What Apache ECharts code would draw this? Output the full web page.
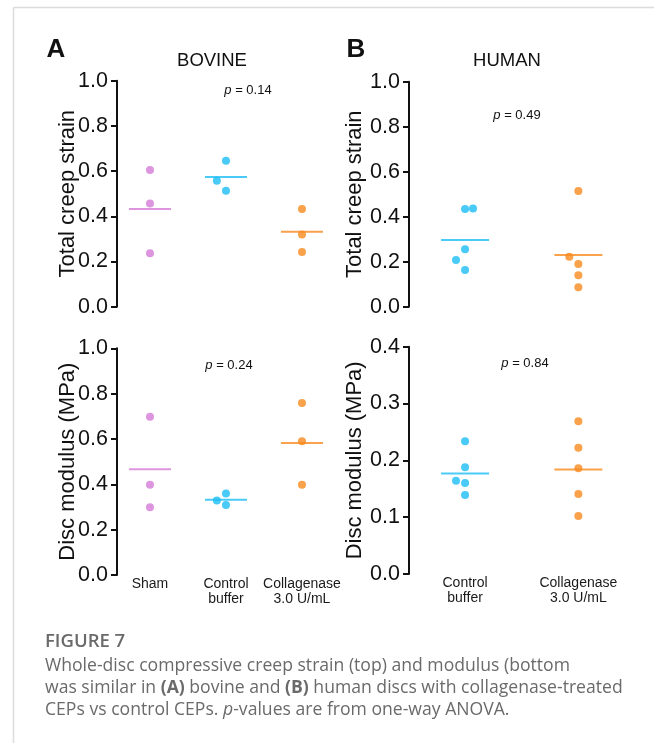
<!DOCTYPE html>
<html>
<head>
<meta charset="utf-8">
<script src="https://cdn.jsdelivr.net/npm/echarts@6/dist/echarts.min.js"></script>
<style>
html,body{margin:0;padding:0;background:#fff;}
#chart{width:654px;height:743px;}
</style>
</head>
<body>
<div id="chart"></div>
<script>
// ---- categories ----
const bovineGroups = ['Sham', 'Control\nbuffer', 'Collagenase\n3.0 U/mL'];
const humanGroups = ['Control\nbuffer', 'Collagenase\n3.0 U/mL'];

// ---- BOVINE total creep strain ----
const bovineStrainSham = [0.605, 0.457, 0.236];
const bovineStrainControl = [0.646, 0.557, 0.513];
const bovineStrainCollagenase = [0.432, 0.320, 0.242];
const bovineStrainMeans = [0.432, 0.574, 0.332];
const bovineStrainJitter = [[0, 0, 0], [0, -0.12, 0], [0, 0, 0]];

// ---- BOVINE disc modulus (MPa) ----
const bovineModulusSham = [0.698, 0.398, 0.299];
const bovineModulusControl = [0.359, 0.329, 0.309];
const bovineModulusCollagenase = [0.759, 0.590, 0.398];
const bovineModulusMeans = [0.466, 0.332, 0.582];
const bovineModulusJitter = [[0, 0, 0], [0, -0.12, 0], [0, 0, 0]];

// ---- HUMAN total creep strain ----
const humanStrainControl = [0.434, 0.437, 0.255, 0.208, 0.163];
const humanStrainCollagenase = [0.514, 0.222, 0.190, 0.140, 0.086];
const humanStrainMeans = [0.296, 0.230];
const humanStrainJitter = [[0, 0.07, 0, -0.08, 0], [0, -0.08, 0, 0, 0]];

// ---- HUMAN disc modulus (MPa) ----
const humanModulusControl = [0.2335, 0.188, 0.164, 0.160, 0.139];
const humanModulusCollagenase = [0.269, 0.222, 0.186, 0.141, 0.102];
const humanModulusMeans = [0.177, 0.184];
const humanModulusJitter = [[0, 0, -0.08, 0, 0], [0, 0, 0, 0, 0]];

// ---- p-values ----
const pValues = ['0.14', '0.24', '0.49', '0.84'];

// ---- tick labels ----
const strainTicks = [0, 1, 0.2];
const bovineModulusTicks = [0, 1, 0.2];
const humanModulusTicks = [0, 0.4, 0.1];

const PINK = '#d67ad8', CYAN = '#1bbdf5', ORANGE = '#f8891e';
const FONT = '"Liberation Sans", Arial, Helvetica, sans-serif';

const chart = echarts.init(document.getElementById('chart'), null, {renderer: 'canvas'});

const grids = [
  {left: 117, top: 80.7, width: 228, height: 226},
  {left: 117, top: 348.3, width: 228, height: 226.7},
  {left: 409, top: 81.7, width: 232, height: 225},
  {left: 409, top: 346.7, width: 232, height: 227.3}
].map(g => Object.assign({outerBoundsMode: 'none', containLabel: false}, g));

function xAxis(gi, min, max, groups, showLabels) {
  return {
    type: 'value', gridIndex: gi, min: min, max: max,
    axisLine: {show: false}, axisTick: {show: false}, splitLine: {show: false},
    axisLabel: {
      show: showLabels, customValues: groups.map((_, i) => i + 1),
      formatter: v => groups[Math.round(v) - 1] || '',
      fontFamily: FONT, fontSize: 14, color: '#1a1a1a', lineHeight: 15, margin: 2, align: 'center'
    }
  };
}
function yAxis(gi, ticks, name, gap) {
  return {
    type: 'value', gridIndex: gi, min: ticks[0], max: ticks[1], interval: ticks[2],
    name: name, nameLocation: 'middle', nameGap: gap, nameMoveOverlap: false,
    nameTextStyle: {fontFamily: FONT, fontSize: 22, color: '#111'},
    axisLine: {show: true, onZero: false, lineStyle: {color: '#111', width: 2}},
    axisTick: {show: true, inside: false, length: 6, lineStyle: {color: '#111', width: 2}},
    splitLine: {show: false},
    axisLabel: {fontFamily: FONT, fontSize: 21.5, color: '#111', margin: 9, formatter: v => v.toFixed(1)}
  };
}

function dots(gi, groupIdx, values, jitter, color) {
  return {
    type: 'scatter', xAxisIndex: gi, yAxisIndex: gi, symbol: 'circle', symbolSize: 8,
    itemStyle: {color: color}, silent: true, z: 3,
    data: values.map((v, k) => [groupIdx + 1 + jitter[k], v])
  };
}
function meanBar(gi, groupIdx, mean, color, w) {
  return {
    type: 'scatter', xAxisIndex: gi, yAxisIndex: gi, symbol: 'rect', symbolSize: [w, 2],
    itemStyle: {color: color}, silent: true, z: 2,
    data: [[groupIdx + 1, mean]]
  };
}

const series = [];
// A top
[bovineStrainSham, bovineStrainControl, bovineStrainCollagenase].forEach((arr, i) => {
  const c = [PINK, CYAN, ORANGE][i];
  series.push(dots(0, i, arr, bovineStrainJitter[i], c));
  series.push(meanBar(0, i, bovineStrainMeans[i], c, 42));
});
// A bottom
[bovineModulusSham, bovineModulusControl, bovineModulusCollagenase].forEach((arr, i) => {
  const c = [PINK, CYAN, ORANGE][i];
  series.push(dots(1, i, arr, bovineModulusJitter[i], c));
  series.push(meanBar(1, i, bovineModulusMeans[i], c, 42));
});
// B top
[humanStrainControl, humanStrainCollagenase].forEach((arr, i) => {
  const c = [CYAN, ORANGE][i];
  series.push(dots(2, i, arr, humanStrainJitter[i], c));
  series.push(meanBar(2, i, humanStrainMeans[i], c, 48));
});
// B bottom
[humanModulusControl, humanModulusCollagenase].forEach((arr, i) => {
  const c = [CYAN, ORANGE][i];
  series.push(dots(3, i, arr, humanModulusJitter[i], c));
  series.push(meanBar(3, i, humanModulusMeans[i], c, 48));
});

function txt(x, y, text, opts) {
  return {type: 'text', x: x, y: y, silent: true,
    style: Object.assign({text: text, fontFamily: FONT, fill: '#111', textAlign: 'center', textVerticalAlign: 'middle'}, opts || {})};
}
const pRich = {i: {fontStyle: 'italic', fontFamily: FONT, fontSize: 13, fill: '#111'}, n: {fontFamily: FONT, fontSize: 13, fill: '#111'}};
const pPos = [[248, 90], [229, 365], [517, 115], [525, 363]];

const CAP = '"Open Sans", "Noto Sans", sans-serif';
const CAPC = '#6a6a6a';
const CS = 17.6;
const capRich = {
  n: {fontFamily: CAP, fontSize: CS, fill: CAPC},
  b: {fontFamily: CAP, fontSize: CS, fill: CAPC, fontWeight: 'bold'},
  i: {fontFamily: CAP, fontSize: CS, fill: CAPC, fontStyle: 'italic'}
};

const graphic = [
  {type: 'line', silent: true, shape: {x1: 13.5, y1: 7.5, x2: 654, y2: 7.5}, style: {stroke: '#dcdcdc', lineWidth: 1.5}},
  {type: 'line', silent: true, shape: {x1: 13.5, y1: 7.5, x2: 13.5, y2: 743}, style: {stroke: '#dcdcdc', lineWidth: 1.5}},
  txt(56, 50, 'A', {fontSize: 26, fontWeight: 'bold'}),
  txt(356, 50, 'B', {fontSize: 26, fontWeight: 'bold'}),
  txt(212, 61, 'BOVINE', {fontSize: 18.5}),
  txt(507, 61, 'HUMAN', {fontSize: 18.5}),
  {type: 'text', x: 45, y: 642, silent: true, style: {text: 'FIGURE 7', fontFamily: CAP, fontSize: 18.5, fontWeight: 600, fill: CAPC, textAlign: 'left', textVerticalAlign: 'middle'}},
  {type: 'text', x: 45, y: 666, silent: true, style: {text: '{n|Whole-disc compressive creep strain (top) and modulus (bottom}', rich: capRich, textAlign: 'left', textVerticalAlign: 'middle'}},
  {type: 'text', x: 45, y: 688, silent: true, style: {text: '{n|was similar in }{b|(A)}{n| bovine and }{b|(B)}{n| human discs with collagenase-treated}', rich: capRich, textAlign: 'left', textVerticalAlign: 'middle'}},
  {type: 'text', x: 45, y: 710, silent: true, style: {text: '{n|CEPs vs control CEPs. }{i|p}{n|-values are from one-way ANOVA.}', rich: capRich, textAlign: 'left', textVerticalAlign: 'middle'}}
];
pValues.forEach((p, k) => {
  graphic.push({type: 'text', x: pPos[k][0], y: pPos[k][1], silent: true,
    style: {text: '{i|p}{n| = ' + p + '}', rich: pRich, textAlign: 'center', textVerticalAlign: 'middle'}});
});

chart.setOption({
  animation: false,
  backgroundColor: '#fff',
  grid: grids,
  xAxis: [
    xAxis(0, 0.566, 3.566, bovineGroups, false),
    xAxis(1, 0.566, 3.566, bovineGroups, true),
    xAxis(2, 0.505, 2.553, humanGroups, false),
    xAxis(3, 0.505, 2.553, humanGroups, true)
  ],
  yAxis: [
    yAxis(0, strainTicks, 'Total creep strain', 38),
    yAxis(1, bovineModulusTicks, 'Disc modulus (MPa)', 38),
    yAxis(2, strainTicks, 'Total creep strain', 43),
    yAxis(3, humanModulusTicks, 'Disc modulus (MPa)', 43)
  ],
  series: series,
  graphic: graphic
});
</script>
</body>
</html>
